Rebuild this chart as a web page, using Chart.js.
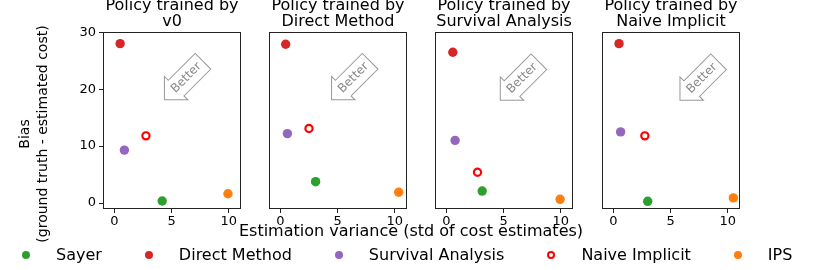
<!DOCTYPE html>
<html>
<head>
<meta charset="utf-8">
<script src="https://cdn.jsdelivr.net/npm/chart.js@4.4.0/dist/chart.umd.min.js"></script>
<style>
  body { margin: 0; background: #fff; font-family: 'DejaVu Sans', sans-serif; }
  #wrap { position: relative; width: 822px; height: 270px; overflow: hidden; }
  canvas.panel { position: absolute; top: 0; }
  #ylabel {
    position: absolute; left: -97px; top: 116px; width: 260px; height: 36px;
    font-size: 14px; line-height: 18px; text-align: center; white-space: nowrap;
    transform: rotate(-90deg); transform-origin: center;
  }
  #xlabel {
    position: absolute; left: 0; top: 222px; width: 822px;
    font-size: 16px; line-height: 18px; text-align: center;
  }
  #legend {
    position: absolute; left: 22px; top: 245px; display: flex; align-items: center;
    font-size: 16px; line-height: 20px; white-space: nowrap;
  }
  .item { display: flex; align-items: center; margin-right: 43px; }
  .dot { width: 8px; height: 8px; border-radius: 50%; box-sizing: border-box; }
  .item .t { margin-left: 26px; }
</style>
</head>
<body>
<div id="wrap">
  <canvas id="c0" class="panel"></canvas>
  <canvas id="c1" class="panel"></canvas>
  <canvas id="c2" class="panel"></canvas>
  <canvas id="c3" class="panel"></canvas>
  <div id="ylabel">Bias<br>(ground truth - estimated cost)</div>
  <div id="xlabel">Estimation variance (std of cost estimates)</div>
  <div id="legend"></div>
</div>
<script>
// methods, in legend order
const methods = ['Sayer', 'Direct Method', 'Survival Analysis', 'Naive Implicit', 'IPS'];
const colors = ['#2ca02c', '#d62728', '#9467bd', '#ff0000', '#ff7f0e'];
const hollow = [false, false, false, true, false];

const titles = [
  ['Policy trained by', 'v0'],
  ['Policy trained by', 'Direct Method'],
  ['Policy trained by', 'Survival Analysis'],
  ['Policy trained by', 'Naive Implicit']
];

// std of cost estimates / bias, one value per method
const varV0 = [4.18, 0.50, 0.87, 2.76, 9.94];
const biasV0 = [0.35, 28.0, 9.3, 11.8, 1.63];
const varDM = [3.08, 0.46, 0.61, 2.50, 10.35];
const biasDM = [3.75, 27.9, 12.2, 13.1, 1.9];
const varSA = [3.13, 0.56, 0.76, 2.72, 9.95];
const biasSA = [2.1, 26.5, 11.0, 5.4, 0.65];
const varNI = [3.00, 0.49, 0.63, 2.75, 10.5];
const biasNI = [0.3, 28.0, 12.5, 11.8, 0.9];

const xTicks = [0, 5, 10];
const yTicks = [0, 10, 20, 30];

// where the "Better" arrow sits in each panel (data coords)
const arrowX = [6.3, 6.4, 6.64, 7.75];
const arrowY = [22.0, 22.0, 21.9, 21.9];

const panelVar = [varV0, varDM, varSA, varNI];
const panelBias = [biasV0, biasDM, biasSA, biasNI];

Chart.defaults.font.family = "'DejaVu Sans', sans-serif";
Chart.defaults.color = '#000';

const framePlugin = {
  id: 'frame',
  afterDatasetsDraw(chart) {
    const a = chart.chartArea;
    const ctx = chart.ctx;
    ctx.save();
    ctx.strokeStyle = '#222';
    ctx.lineWidth = 1;
    ctx.strokeRect(Math.round(a.left) + 0.5, Math.round(a.top) + 0.5,
      Math.round(a.right - a.left) - 1, Math.round(a.bottom - a.top) - 1);
    ctx.restore();
  }
};

const arrowPlugin = {
  id: 'betterArrow',
  beforeDatasetsDraw(chart, args, opts) {
    const ctx = chart.ctx;
    const cx = chart.scales.x.getPixelForValue(opts.x);
    const cy = chart.scales.y.getPixelForValue(opts.y);
    ctx.save();
    ctx.translate(cx, cy);
    ctx.rotate(-Math.PI / 4);
    ctx.font = "12px 'DejaVu Sans'";
    const tw = ctx.measureText('Better').width;
    const th = 12.5, pad = 4.8;
    let x0 = -tw / 2 - pad, x1 = tw / 2 + pad, y0 = -th / 2 - pad, y1 = th / 2 + pad;
    const dx = (y1 - y0) / 2, dxx = dx / 2;
    x0 += pad / 1.4;
    ctx.beginPath();
    ctx.moveTo(x0 + dxx, y0);
    ctx.lineTo(x1, y0);
    ctx.lineTo(x1, y1);
    ctx.lineTo(x0 + dxx, y1);
    ctx.lineTo(x0 + dxx, y1 + dxx);
    ctx.lineTo(x0 - dx, y0 + dx);
    ctx.lineTo(x0 + dxx, y0 - dxx);
    ctx.closePath();
    ctx.fillStyle = '#fff';
    ctx.fill();
    ctx.strokeStyle = '#999';
    ctx.lineWidth = 1;
    ctx.stroke();
    ctx.fillStyle = '#888';
    ctx.textAlign = 'center';
    ctx.textBaseline = 'middle';
    ctx.fillText('Better', 0, 0);
    ctx.restore();
  }
};

const panelLeft = [103, 269, 435, 602];
const panelWidth = 138;

for (let p = 0; p < 4; p++) {
  const canvas = document.getElementById('c' + p);
  const padL = p === 0 ? 0 : 12;
  const canvasLeft = p === 0 ? 0 : panelLeft[p] - padL;
  const w = panelLeft[p] + panelWidth + 12 - canvasLeft;
  canvas.width = w;
  canvas.height = 230;
  canvas.style.left = canvasLeft + 'px';

  const datasets = methods.map((m, i) => ({
    label: m,
    data: [{ x: panelVar[p][i], y: panelBias[p][i] }],
    backgroundColor: hollow[i] ? '#fff' : colors[i],
    borderColor: colors[i],
    borderWidth: hollow[i] ? 2.2 : 0,
    pointRadius: hollow[i] ? 3.6 : 4.7,
    pointHoverRadius: hollow[i] ? 3.6 : 4.7
  }));

  const tickGrid = { display: true, drawOnChartArea: false, drawTicks: true, tickLength: 4, color: '#222' };

  new Chart(canvas.getContext('2d'), {
    type: 'scatter',
    data: { datasets: datasets },
    options: {
      responsive: false,
      animation: false,
      layout: { padding: { left: padL, right: 12, top: 0, bottom: 0 } },
      plugins: {
        legend: { display: false },
        tooltip: { enabled: false },
        title: {
          display: true,
          text: titles[p],
          fullSize: false,
          font: { size: 16, weight: 'normal', lineHeight: 1.0 },
          color: '#000',
          padding: { top: -2, bottom: 2 }
        },
        betterArrow: { x: arrowX[p], y: arrowY[p] }
      },
      scales: {
        x: {
          type: 'linear',
          min: -1,
          max: 11.08,
          afterBuildTicks: s => { s.ticks = xTicks.map(v => ({ value: v })); },
          afterFit: s => { s.height = 21; },
          ticks: { font: { size: 13 }, color: '#000', padding: 1, maxRotation: 0, autoSkip: false },
          grid: tickGrid,
          border: { display: false }
        },
        y: {
          type: 'linear',
          display: p === 0,
          min: -1.05,
          max: 30.05,
          afterBuildTicks: s => { s.ticks = yTicks.map(v => ({ value: v })); },
          afterFit: s => { if (p === 0) s.width = 103; },
          ticks: { font: { size: 13 }, color: '#000', padding: 3, autoSkip: false },
          grid: tickGrid,
          border: { display: false }
        }
      }
    },
    plugins: [arrowPlugin, framePlugin]
  });
}

// shared legend under the panels
const legend = document.getElementById('legend');
methods.forEach((m, i) => {
  const item = document.createElement('div');
  item.className = 'item';
  const dot = document.createElement('span');
  dot.className = 'dot';
  if (hollow[i]) {
    dot.style.border = '2px solid ' + colors[i];
    dot.style.background = '#fff';
  } else {
    dot.style.background = colors[i];
  }
  const t = document.createElement('span');
  t.className = 't';
  t.textContent = m;
  item.appendChild(dot);
  item.appendChild(t);
  legend.appendChild(item);
});
</script>
</body>
</html>
